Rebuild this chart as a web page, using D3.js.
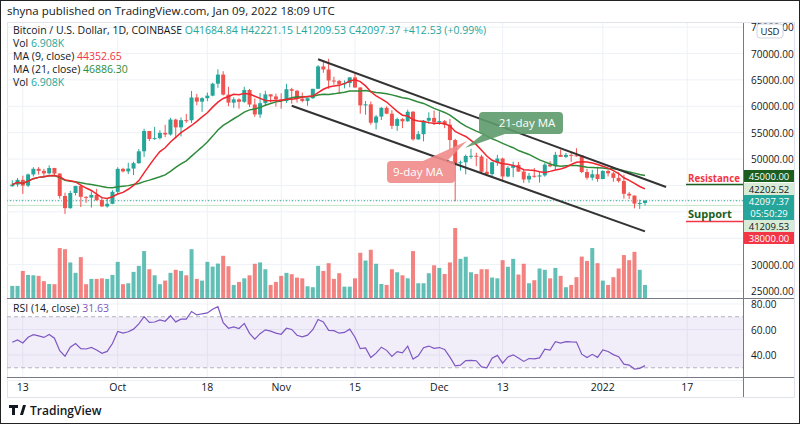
<!DOCTYPE html>
<html><head><meta charset="utf-8">
<script src="https://cdn.jsdelivr.net/npm/d3@7"></script>
<style>body{margin:0;background:#fff}svg{display:block;font-family:"Open Sans",Roboto,sans-serif}</style>
</head><body><svg id="c" width="800" height="424"></svg>
<script>
const startDate = "2021-09-11";
const highs = [45970,46400,46850,47250,48450,48480,48150,48800,48350,47330,43620,44000,44960,45100,42950,43900,44350,42780,42600,44100,
48450,48350,49300,49500,51900,55750,55300,56100,55450,56500,57800,57650,57900,58550,62900,62350,61700,62600,64450,67000,
66650,63700,61700,61500,63700,63300,61500,62500,62950,62300,62400,62450,64250,63500,63100,62600,61600,63300,67800,68500,
69000,65600,65000,64900,65500,66300,63600,61000,60900,58350,59850,60000,59250,57850,57750,59350,59100,55300,57400,58850,
59200,59050,57400,57600,53850,49700,50850,51950,51200,50800,50100,49500,50800,50250,48700,49500,49450,47950,47350,48300,
47550,49300,49600,51350,51800,51150,51250,52050,50680,48150,47950,48550,47900,47950,47550,47500,47050,43750,43100,42300,42221.15];
const lows = [44750,44750,43400,44700,46700,47050,46750,47050,46850,42500,39600,40580,43100,40900,41700,40800,42100,40900,40800,41450,
43300,47450,47150,46950,49100,50400,53400,53650,53700,54150,54450,54000,54300,56850,56850,60200,58950,60950,61900,63500,
62050,60000,59700,59550,60650,59850,58000,57800,60200,60750,59950,59550,60650,60500,60700,60750,60100,61400,63300,66350,
63300,64100,62300,63400,63600,63500,58600,58400,56500,55600,57400,58500,55700,55350,55850,57050,53500,53650,53350,56700,
56450,56500,55850,51700,42000,47800,47100,50050,48650,47400,46900,46700,48700,45750,46550,46550,47550,45500,45500,46450,
45550,46650,48450,47950,50400,50200,49450,50450,47350,46100,45950,45700,46200,46700,45700,45550,42500,42450,40650,40550,41209.53];
const closes = [45160,46060,44960,47090,48150,47760,47290,48300,47250,43010,40700,43570,44890,42840,42700,43210,42230,41030,41520,43790,
48140,47660,48200,49220,51470,55320,53800,53960,54960,54660,57480,56000,57370,57350,61670,60880,61530,62010,64280,66000,
62210,60690,61310,60850,63080,60330,58450,60590,62250,61860,61320,61000,63230,62930,61440,61010,61530,63310,67550,66970,
64880,64810,64160,64400,65470,63560,60170,60370,56890,58050,59710,58600,56290,57570,57160,58960,53730,54720,57270,57800,
56950,57190,56510,53600,49200,49390,50580,50620,50490,47590,47140,49390,50100,46700,48340,48890,47630,46130,46830,46680,
46900,48940,48620,50800,50410,50800,50700,50680,47540,46470,47120,46210,47730,47300,46430,45830,43420,43080,41560,41680,42097.37];
const firstOpen = 44850, lastOpen = 41684.84;
const volumes = [6.4,6.4,14.3,12.2,12.0,11.7,8.9,7.4,7.3,26.4,25.8,18.8,13.3,21.6,7.3,10.1,10.1,10.4,10.1,12.2,19.1,7.3,7.8,13.8,17.0,24.8,15.2,12.0,7.3,9.2,13.3,14.9,14.3,12.0,25.8,10.1,9.2,19.1,16.6,18.2,22.3,16.8,6.9,8.5,10.4,12.0,18.1,18.8,15.2,6.9,8.5,11.7,13.3,12.6,10.8,10.4,6.2,5.7,17.0,
14.3,18.4,10.1,13.1,6.0,6.0,10.4,23.9,19.8,25.5,18.1,7.4,6.9,15.2,13.6,12.0,10.4,24.8,7.8,7.8,13.1,17.3,15.9,12.7,18.8,37.0,20.7,21.8,13.6,12.7,15.2,15.2,10.8,10.4,20.0,16.5,20.7,12.4,18.1,7.8,9.4,15.6,14.9,10.4,15.9,11.7,5.7,6.9,11.0,21.9,19.6,26.4,18.4,9.2,6.9,11.0,15.6,22.7,20.0,24.4,14.9,6.908];
const rsiSeedAvgMove = 900;
const priceTicks = [25000,30000,35000,40000,45000,50000,55000,60000,65000,70000,75000];
const priceLabelTicks = [25000,30000,50000,55000,60000,65000,70000,75000];
const rsiTicks = [40,60,80];
const timeTicks = [["2021-09-13","13"],["2021-10-01","Oct"],["2021-10-18","18"],["2021-11-01","Nov"],["2021-11-15","15"],["2021-12-01","Dec"],["2021-12-13","13"],["2022-01-01","2022"],["2022-01-17","17"]];
const upperChannel = [["2021-11-08",68900],["2022-01-13",44700]];
const lowerChannel = [["2021-11-03",60100],["2022-01-09",36300]];

const svg = d3.select("#c");
const parse = d3.utcParse("%Y-%m-%d");
const d0 = parse(startDate);
const N = closes.length;
const dates = d3.range(N).map(i => d3.utcDay.offset(d0, i));
const data = dates.map((d,i)=>({d, o: i===0?firstOpen:(i===N-1?lastOpen:closes[i-1]), h:highs[i], l:lows[i], c:closes[i], v:volumes[i]}));

const x = d3.scaleUtc().domain([d3.utcDay.offset(d0,-0.6), d3.utcDay.offset(d0,N-1)]).range([7,645]);
const right = 743;
const y = d3.scaleLinear().domain([25000,70000]).range([291,53.5]);
const yv = d3.scaleLinear().domain([0,37]).range([298,228]);
const yr = d3.scaleLinear().domain([40,80]).range([355,304]);
const UP="#26a69a", DN="#ef5350";

svg.append("rect").attr("x",0.5).attr("y",0.5).attr("width",799).attr("height",423).attr("fill","#fff").attr("stroke","#222");
svg.append("text").attr("x",7).attr("y",15).attr("font-size",11.5).attr("fill","#131722").text("shyna published on TradingView.com, Jan 09, 2022 18:09 UTC");
svg.append("rect").attr("x",7.5).attr("y",22.5).attr("width",787).attr("height",375).attr("fill","none").attr("stroke","#e0e3eb");

const g = svg.append("g");
priceTicks.forEach(p=>g.append("line").attr("x1",7).attr("x2",right).attr("y1",y(p)).attr("y2",y(p)).attr("stroke","#eef1f6"));
[20,40,60,80].forEach(r=>g.append("line").attr("x1",7).attr("x2",right).attr("y1",yr(r)).attr("y2",yr(r)).attr("stroke","#eef1f6"));
timeTicks.forEach(t=>g.append("line").attr("x1",x(parse(t[0]))).attr("x2",x(parse(t[0]))).attr("y1",23).attr("y2",377).attr("stroke","#eef1f6"));

const bw = 4;
svg.append("g").selectAll("rect").data(data).join("rect")
 .attr("x",d=>x(d.d)-bw/2).attr("width",bw).attr("y",d=>yv(d.v)).attr("height",d=>yv(0)-yv(d.v))
 .attr("fill",d=>d.c>=d.o?UP:DN).attr("opacity",0.72);

svg.append("line").attr("x1",7).attr("x2",right).attr("y1",y(42097.37)).attr("y2",y(42097.37)).attr("stroke",UP).attr("stroke-dasharray","1,2");
svg.append("line").attr("x1",7).attr("x2",right).attr("y1",y(42202.52)).attr("y2",y(42202.52)).attr("stroke","#a5d6a7").attr("stroke-dasharray","1,1").attr("opacity",0.8);
svg.append("line").attr("x1",7).attr("x2",right).attr("y1",y(41209.53)).attr("y2",y(41209.53)).attr("stroke","#c8e6c9");

const cg = svg.append("g");
cg.selectAll("line").data(data).join("line").attr("x1",d=>x(d.d)).attr("x2",d=>x(d.d)).attr("y1",d=>y(d.h)).attr("y2",d=>y(d.l)).attr("stroke",d=>d.c>=d.o?UP:DN);
cg.selectAll("rect").data(data).join("rect").attr("x",d=>x(d.d)-bw/2).attr("width",bw)
 .attr("y",d=>y(Math.max(d.o,d.c))).attr("height",d=>Math.max(1,Math.abs(y(d.o)-y(d.c)))).attr("fill",d=>d.c>=d.o?UP:DN);

function ma(n){return closes.map((c,i)=>d3.mean(closes.slice(Math.max(0,i-n+1),i+1)));}
const line = d3.line().x((v,i)=>x(dates[i])).y(v=>y(v));
svg.append("path").attr("d",line(ma(21))).attr("fill","none").attr("stroke","#2e8b3a").attr("stroke-width",1.5);
svg.append("path").attr("d",line(ma(9))).attr("fill","none").attr("stroke","#f0262f").attr("stroke-width",1.5);

[upperChannel, lowerChannel].forEach(c=>svg.append("line").attr("x1",x(parse(c[0][0]))).attr("y1",y(c[0][1])).attr("x2",x(parse(c[1][0]))).attr("y2",y(c[1][1])).attr("stroke","#333").attr("stroke-width",2));

svg.append("path").attr("d","M493,112 h66 a4,4 0 0 1 4,4 v14 a4,4 0 0 1 -4,4 h-54 l-40,14 l18,-14 h-0 a4,4 0 0 1 -4,-4 v-14 a4,4 0 0 1 4,-4z").attr("fill","#5e9a6a").attr("opacity",0.9);
svg.append("text").attr("x",527).attr("y",127).attr("text-anchor","middle").attr("fill","#fff").attr("font-size",11.5).text("21-day MA");
svg.append("path").attr("d","M391,161 h32 l44,-20 l-20,20 h4 a4,4 0 0 1 4,4 v14 a4,4 0 0 1 -4,4 h-60 a4,4 0 0 1 -4,-4 v-14 a4,4 0 0 1 4,-4z").attr("fill","#f08a8a").attr("opacity",0.9);
svg.append("text").attr("x",418).attr("y",176).attr("text-anchor","middle").attr("fill","#fff").attr("font-size",11.5).text("9-day MA");

svg.append("line").attr("x1",686).attr("x2",right).attr("y1",184.5).attr("y2",184.5).attr("stroke","#1b5e20").attr("stroke-width",1.5);
svg.append("text").attr("x",688).attr("y",182).attr("fill","#f23645").attr("font-size",11).attr("font-weight","bold").attr("textLength",52).attr("lengthAdjust","spacingAndGlyphs").text("Resistance");
svg.append("line").attr("x1",686).attr("x2",right).attr("y1",221.5).attr("y2",221.5).attr("stroke","#f23645").attr("stroke-width",1.5);
svg.append("text").attr("x",688).attr("y",218).attr("fill","#1b5e20").attr("font-size",11).attr("font-weight","bold").text("Support");

svg.append("rect").attr("x",7).attr("width",right-7).attr("y",yr(70)).attr("height",yr(30)-yr(70)).attr("fill","#7e57c2").attr("opacity",0.1);
[70,30].forEach(r=>svg.append("line").attr("x1",7).attr("x2",right).attr("y1",yr(r)).attr("y2",yr(r)).attr("stroke","#b2b5be").attr("stroke-dasharray","4,3"));
let ag=rsiSeedAvgMove, al=rsiSeedAvgMove; const rsi=[50];
for(let i=1;i<N;i++){const ch=closes[i]-closes[i-1];const gn=Math.max(ch,0), ls=Math.max(-ch,0);
 ag=(ag*13+gn)/14; al=(al*13+ls)/14; rsi.push(100-100/(1+ag/al));}
svg.append("path").attr("d",d3.line().x((v,i)=>x(dates[i])).y(v=>yr(v))(rsi)).attr("fill","none").attr("stroke","#7e57c2").attr("stroke-width",1.2);

svg.append("line").attr("x1",7).attr("x2",794).attr("y1",298.5).attr("y2",298.5).attr("stroke","#787b86");
svg.append("line").attr("x1",7).attr("x2",794).attr("y1",377.5).attr("y2",377.5).attr("stroke","#787b86");
svg.append("line").attr("x1",right+0.5).attr("x2",right+0.5).attr("y1",23).attr("y2",397).attr("stroke","#787b86");

priceLabelTicks.forEach(p=>svg.append("text").attr("x",751).attr("y",y(p)+4).attr("font-size",10).attr("fill","#131722").text(d3.format(".2f")(p)));
rsiTicks.forEach(r=>svg.append("text").attr("x",751).attr("y",yr(r)+4).attr("font-size",10).attr("fill","#131722").text(d3.format(".2f")(r)));
svg.append("rect").attr("x",757).attr("y",24).attr("width",26).attr("height",14).attr("rx",3).attr("fill","#fff").attr("stroke","#d1d4dc");
svg.append("text").attr("x",770).attr("y",35).attr("text-anchor","middle").attr("font-size",9.5).attr("fill","#131722").text("USD");
timeTicks.forEach(t=>svg.append("text").attr("x",x(parse(t[0]))).attr("y",391).attr("text-anchor","middle").attr("font-size",10.5).attr("fill","#131722").text(t[1]));

const badges=[[170,12,"#1b5e20","#fff",["45000.00"]],[183,12,"#d7ebd6","#131722",["42202.52"]],[195,25,UP,"#fff",["42097.37","05:50:29"]],[220,12,"#d7ebd6","#131722",["41209.53"]],[232,12,"#f23645","#fff",["38000.00"]]];
badges.forEach(b=>{svg.append("rect").attr("x",744).attr("y",b[0]).attr("width",50).attr("height",b[1]).attr("fill",b[2]);
 b[4].forEach((t,k)=>svg.append("text").attr("x",769).attr("y",b[0]+9.5+k*12).attr("text-anchor","middle").attr("font-size",9.5).attr("fill",b[3]).text(t));});

const L = svg.append("g").attr("font-size",10.5);
const t1 = L.append("text").attr("x",13).attr("y",34).attr("fill","#131722");
t1.append("tspan").text("Bitcoin / U.S. Dollar, 1D, COINBASE  ");
t1.append("tspan").attr("fill",UP).text("O41684.84  H42221.15  L41209.53  C42097.37  +412.53 (+0.99%)");
[["Vol ","6.908K",UP,47],["MA (9, close) ","44352.65","#f23645",60],["MA (21, close) ","46886.30","#2e8b3a",73],["Vol ","6.908K",UP,86]].forEach(r=>{
 const t=L.append("text").attr("x",13).attr("y",r[3]).attr("fill","#131722"); t.append("tspan").text(r[0]); t.append("tspan").attr("fill",r[2]).text(r[1]);});
svg.append("text").attr("x",13).attr("y",312).attr("font-size",10.5).attr("fill","#131722").text("RSI (14, close) ").append("tspan").attr("fill","#7e57c2").text("31.63");

svg.append("path").attr("d","M9,405 h9 v3 h-3 v7 h-3 v-7 h-3z M20,415 l3,-10 h3 l-3,10z").attr("fill","#131722");
svg.append("text").attr("x",30).attr("y",415).attr("font-size",12).attr("font-weight","600").attr("fill","#131722").text("TradingView");
</script></body></html>
